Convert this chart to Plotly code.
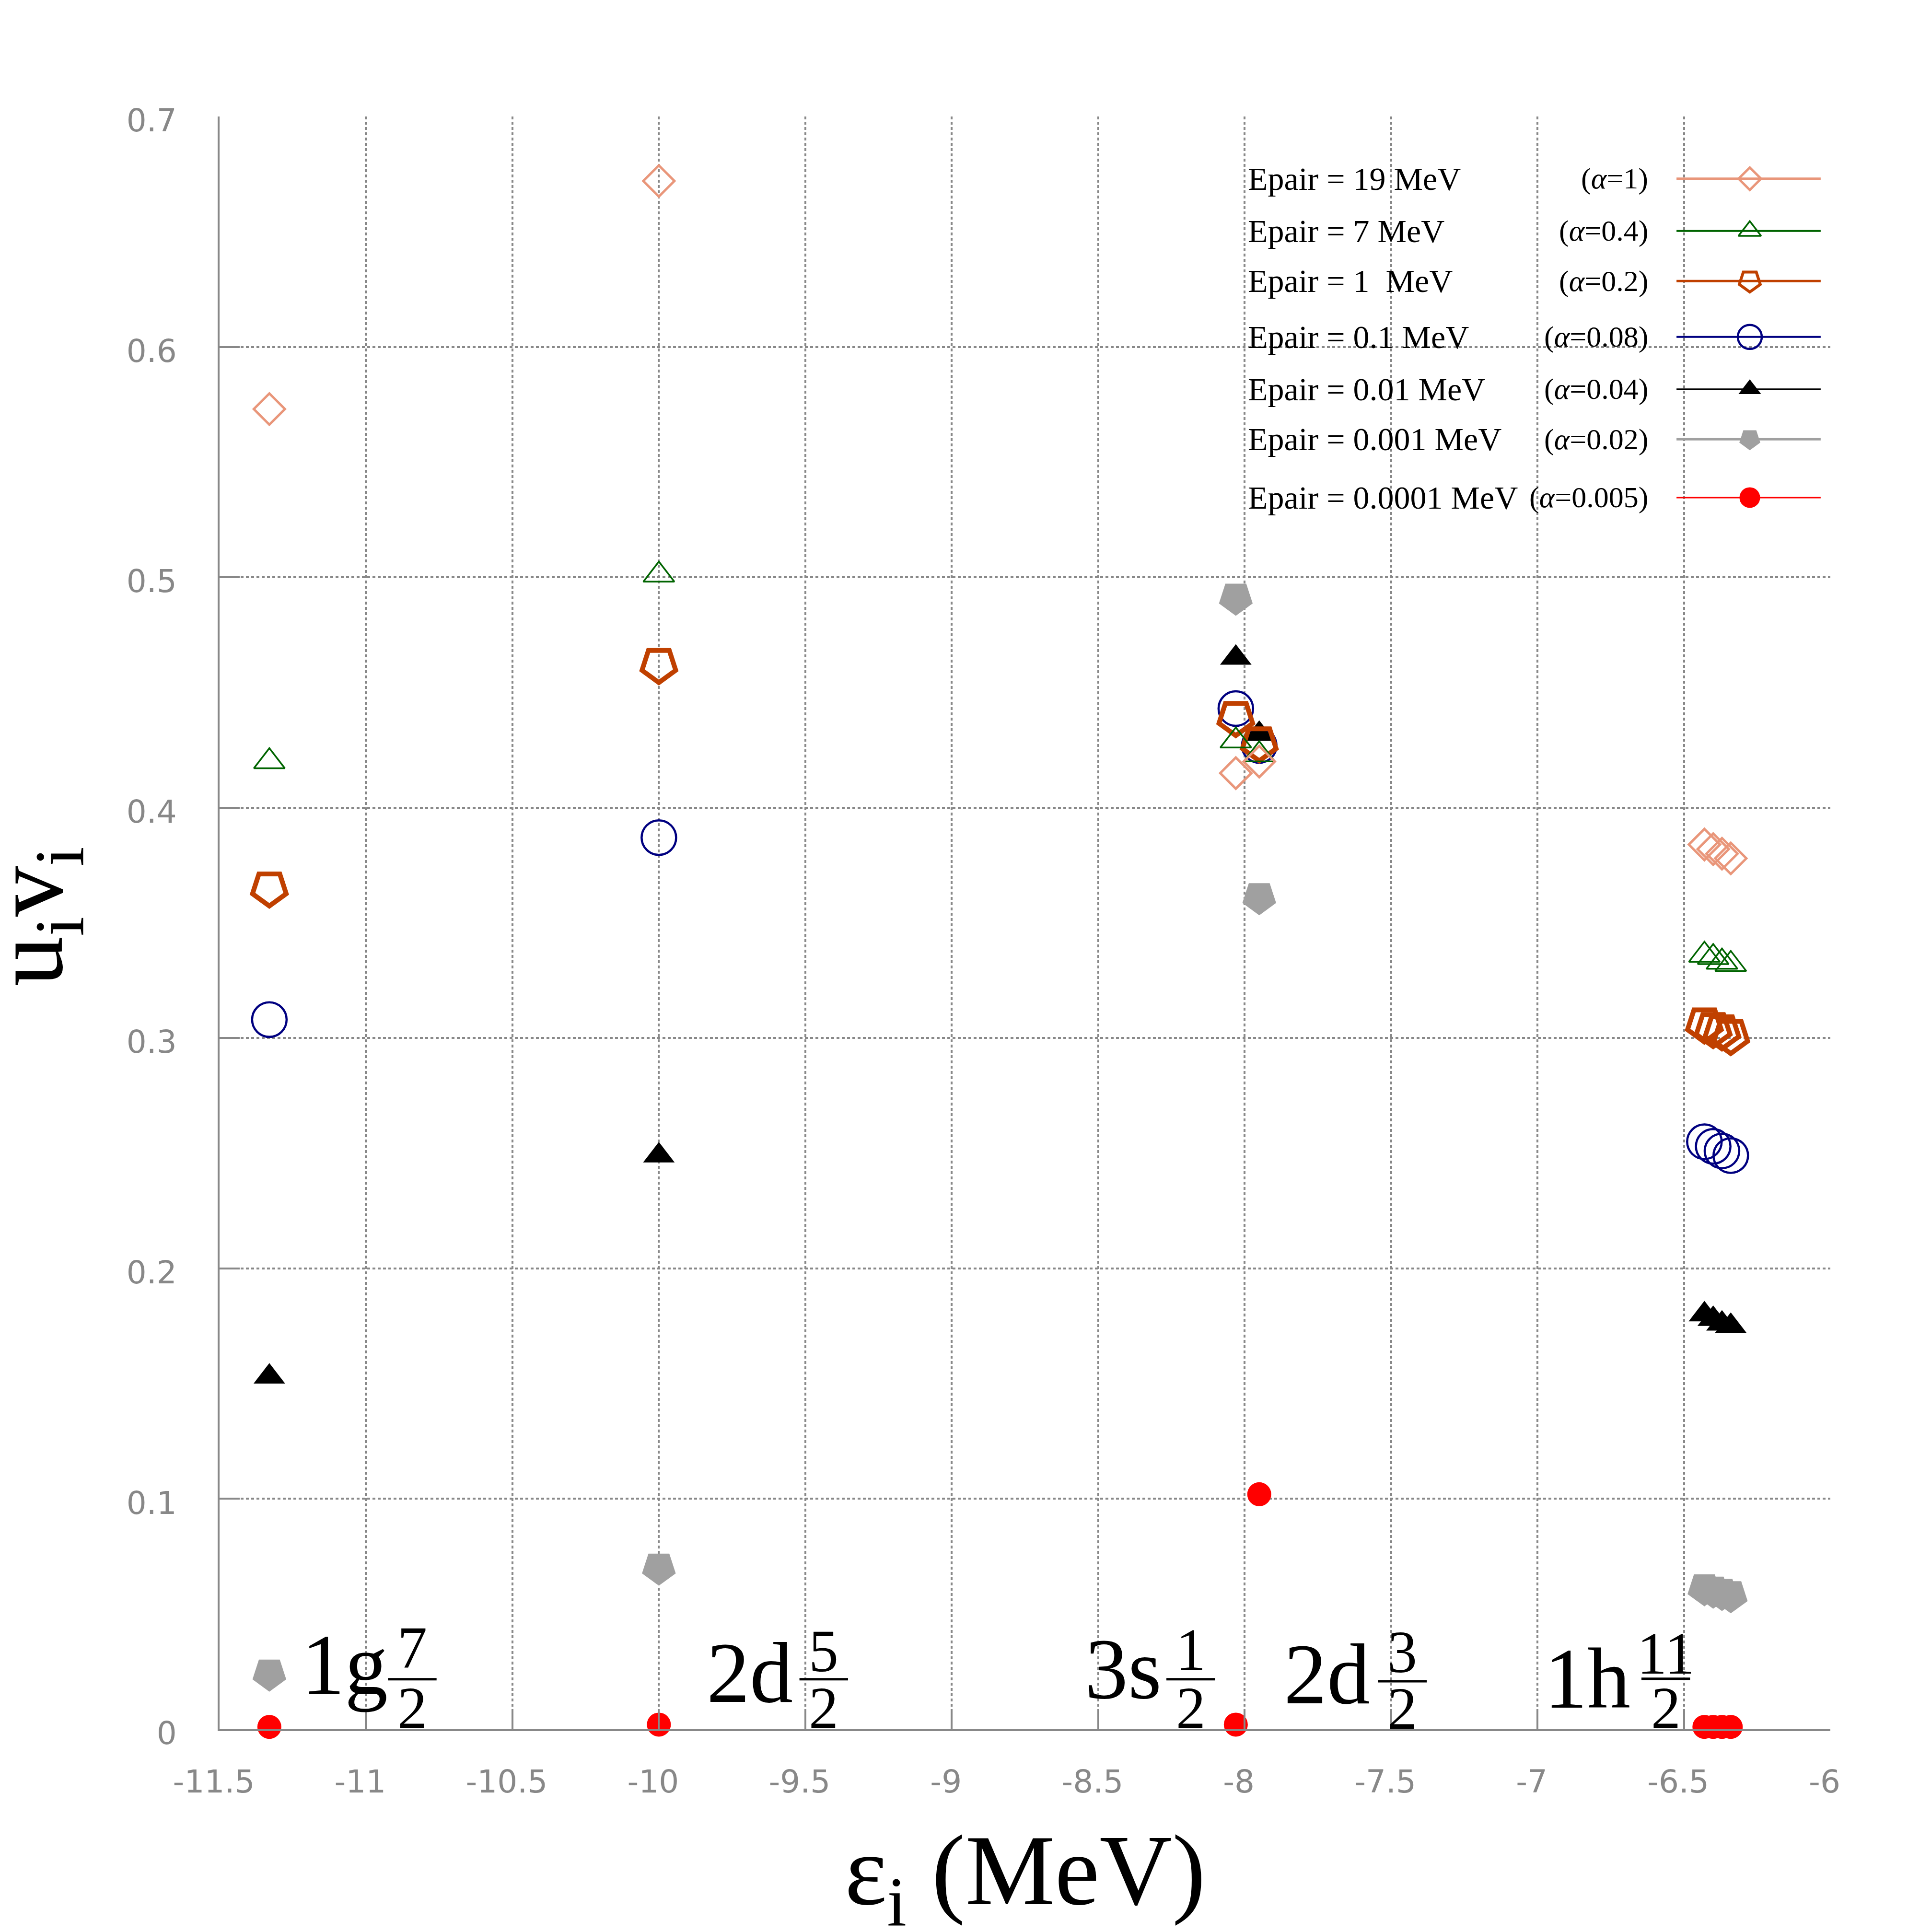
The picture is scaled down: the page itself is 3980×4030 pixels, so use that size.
import plotly.graph_objects as go

# ---------------- data ----------------
energies = [-11.33, -10.0, -8.03, -7.95, -6.43, -6.40, -6.37, -6.34]

uv_19 = [0.573, 0.672, 0.415, 0.420, 0.384, 0.382, 0.380, 0.378]
uv_7 = [0.420, 0.501, 0.429, 0.423, 0.336, 0.335, 0.333, 0.332]
uv_1 = [0.365, 0.462, 0.439, 0.428, 0.306, 0.304, 0.303, 0.301]
uv_01 = [0.308, 0.387, 0.443, 0.427, 0.255, 0.253, 0.251, 0.249]
uv_001 = [0.153, 0.249, 0.465, 0.432, 0.180, 0.178, 0.176, 0.175]
uv_0001 = [0.024, 0.070, 0.491, 0.361, 0.061, 0.060, 0.059, 0.058]
uv_00001 = [0.001, 0.002, 0.002, 0.102, 0.001, 0.001, 0.001, 0.001]

series_values = [uv_19, uv_7, uv_1, uv_01, uv_001, uv_0001, uv_00001]
series_names = ["Epair = 19 MeV", "Epair = 7 MeV", "Epair = 1\u00a0 MeV",
                "Epair = 0.1 MeV", "Epair = 0.01 MeV", "Epair = 0.001 MeV",
                "Epair = 0.0001 MeV"]
series_alpha = ["1", "0.4", "0.2", "0.08", "0.04", "0.02", "0.005"]

orbital_main = ["1g", "2d", "3s", "2d", "1h"]
orbital_num = ["7", "5", "1", "3", "11"]
orbital_den = ["2", "2", "2", "2", "2"]

x_ticks = [-11.5, -11, -10.5, -10, -9.5, -9, -8.5, -8, -7.5, -7, -6.5, -6]
x_ticktext = ["-11.5", "-11", "-10.5", "-10", "-9.5", "-9", "-8.5", "-8", "-7.5", "-7", "-6.5", "-6"]
y_ticks = [0, 0.1, 0.2, 0.3, 0.4, 0.5, 0.6, 0.7]
y_ticktext = ["0", "0.1", "0.2", "0.3", "0.4", "0.5", "0.6", "0.7"]

# ---------------- styles ----------------
colors = ["#E9967A", "#006400", "#C04000", "#000080", "#000000", "#A0A0A0", "#FF0000"]
symbols = ["diamond-open", "triangle-up-open", "pentagon-open", "circle-open",
           "triangle-up", "pentagon", "circle"]
angles = [0, 0, 180, 0, 0, 180, 0]
sizes = [50, 56, 74, 72, 57, 74, 50]
mlw = [5, 3.5, 10, 4.5, 0, 0, 0]
leg_sizes = [36, 41, 46, 50, 41, 46, 43]
leg_mlw = [5, 3.5, 6, 4.5, 0, 0, 0]
leg_lw = [5, 4, 5, 4, 3, 5, 3]

SERIF = "Liberation Serif"
SANS = "DejaVu Sans"
GRAY = "#888888"

fig = go.Figure()

# data traces (drawn in reverse so that the Epair=19 markers are on top)
for i in reversed(range(len(series_values))):
    fig.add_trace(go.Scatter(
        x=energies, y=series_values[i], mode="markers",
        name=series_names[i], showlegend=False, cliponaxis=False,
        marker=dict(symbol=symbols[i], color=colors[i], size=sizes[i],
                    angle=angles[i],
                    line=dict(color=colors[i], width=mlw[i])),
    ))

# custom legend (symbols on the right, as in the original)
leg_rows = [0.9614, 0.9290, 0.8980, 0.8633, 0.8309, 0.7999, 0.7637]
leg_line_x = [0.9045, 0.9500, 0.9940]
leg_text_x = 0.6378
leg_alpha_x = 0.8875
annotations = []
for i in range(len(series_values)):
    fig.add_trace(go.Scatter(
        x=leg_line_x, y=[leg_rows[i]] * 3, mode="lines+markers",
        xaxis="x2", yaxis="y2", showlegend=False, cliponaxis=False,
        hoverinfo="skip",
        line=dict(color=colors[i], width=leg_lw[i]),
        marker=dict(symbol=symbols[i], color=colors[i], size=leg_sizes[i],
                    angle=angles[i], opacity=[0, 1, 0],
                    line=dict(color=colors[i], width=leg_mlw[i])),
    ))
    annotations.append(dict(
        x=leg_text_x, y=leg_rows[i], xref="paper", yref="paper",
        text=series_names[i], showarrow=False, xanchor="left", yanchor="middle",
        font=dict(family=SERIF, size=68, color="black")))
    annotations.append(dict(
        x=leg_alpha_x, y=leg_rows[i], xref="paper", yref="paper",
        text="(<i>\u03b1</i>=" + series_alpha[i] + ")", showarrow=False,
        xanchor="right", yanchor="middle",
        font=dict(family=SERIF, size=62, color="black")))

# orbital labels with stacked fractions
main_x = [-11.223, -9.840, -8.549, -7.869, -6.981]
main_y = [0.0279, 0.0244, 0.0262, 0.0238, 0.0219]
frac_x = [-10.842, -9.437, -8.184, -7.461, -6.562]
num_y = [0.0352, 0.0338, 0.0344, 0.0335, 0.0327]
bar_y = [0.0217, 0.0217, 0.0217, 0.0208, 0.0219]
den_y = [0.0090, 0.0090, 0.0090, 0.0088, 0.0090]
bar_half = 0.083
shapes = []
for k in range(len(orbital_main)):
    annotations.append(dict(
        x=main_x[k], y=main_y[k], xref="x", yref="y", text=orbital_main[k],
        showarrow=False, xanchor="left", yanchor="middle",
        font=dict(family=SERIF, size=180, color="black")))
    annotations.append(dict(
        x=frac_x[k], y=num_y[k], xref="x", yref="y", text=orbital_num[k],
        showarrow=False, xanchor="center", yanchor="middle",
        font=dict(family=SERIF, size=124, color="black")))
    annotations.append(dict(
        x=frac_x[k], y=den_y[k], xref="x", yref="y", text=orbital_den[k],
        showarrow=False, xanchor="center", yanchor="middle",
        font=dict(family=SERIF, size=124, color="black")))
    shapes.append(dict(
        type="line", xref="x", yref="y",
        x0=frac_x[k] - bar_half, x1=frac_x[k] + bar_half,
        y0=bar_y[k], y1=bar_y[k], line=dict(color="black", width=5)))

# axis titles
annotations.append(dict(
    x=0.5, y=-0.0919, xref="paper", yref="paper",
    text="\u03b5<sub>i</sub> (MeV)", showarrow=False,
    xanchor="center", yanchor="middle",
    font=dict(family=SERIF, size=210, color="black")))
annotations.append(dict(
    x=-0.1145, y=0.504, xref="paper", yref="paper",
    text="u<sub>i</sub>v<sub>i</sub>", showarrow=False, textangle=-90,
    xanchor="center", yanchor="middle",
    font=dict(family=SERIF, size=210, color="black")))

axis_common = dict(
    showgrid=True, gridcolor=GRAY, gridwidth=4, griddash="6px,5px",
    zeroline=False, showline=True, linecolor=GRAY, linewidth=4,
    ticks="inside", ticklen=42, tickwidth=4, tickcolor=GRAY,
    tickfont=dict(family=SANS, size=66, color=GRAY),
)

fig.update_layout(
    width=3980, height=4030,
    margin=dict(l=450, r=170, t=235, b=431),
    paper_bgcolor="white", plot_bgcolor="white",
    showlegend=False,
    xaxis=dict(range=[-11.5, -6], tickvals=x_ticks, ticktext=x_ticktext,
               ticklabelstandoff=49, ticklabelshift=-12, **axis_common),
    yaxis=dict(range=[0, 0.7], tickvals=y_ticks, ticktext=y_ticktext,
               ticklabelstandoff=72, ticklabelshift=8, **axis_common),
    xaxis2=dict(overlaying="x", range=[0, 1], visible=False, anchor="y2"),
    yaxis2=dict(overlaying="y", range=[0, 1], visible=False, anchor="x2"),
    annotations=annotations,
    shapes=shapes,
)

fig.write_html("out.html")
